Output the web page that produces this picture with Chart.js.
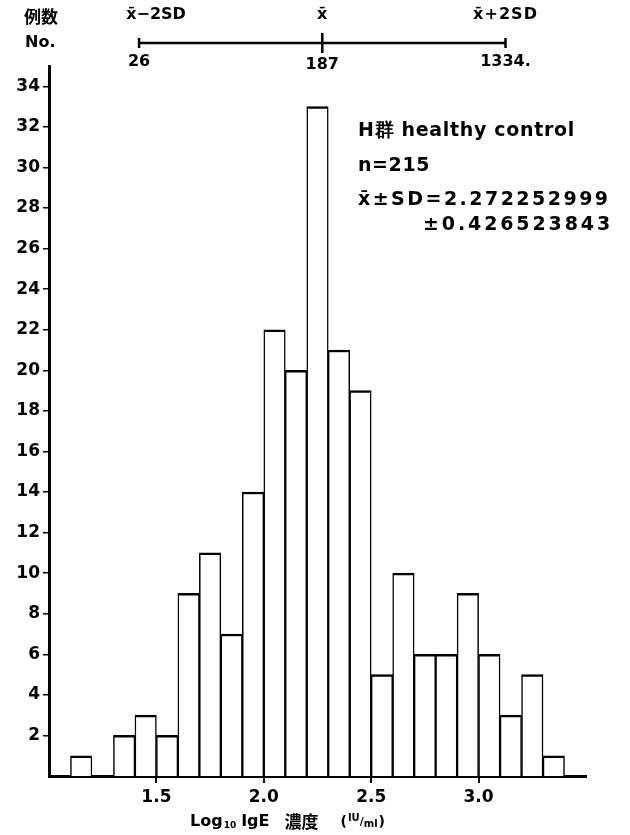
<!DOCTYPE html>
<html>
<head>
<meta charset="utf-8">
<script src="https://cdn.jsdelivr.net/npm/chart.js@4.4.1/dist/chart.umd.min.js"></script>
<style>
  body { margin: 0; background: #fff; }
  #wrap { width: 630px; height: 835px; position: relative; }
</style>
</head>
<body>
<div id="wrap"><canvas id="igeChart"></canvas></div>
<script>
// histogram bins (lower edge of each 0.1 wide bin) and counts
const binStarts = [1.1, 1.2, 1.3, 1.4, 1.5, 1.6, 1.7, 1.8, 1.9, 2.0, 2.1, 2.2,
                   2.3, 2.4, 2.5, 2.6, 2.7, 2.8, 2.9, 3.0, 3.1, 3.2, 3.3];
const counts = [1, 0, 2, 3, 2, 9, 11, 7, 14, 22, 20, 33,
                21, 19, 5, 10, 6, 6, 9, 6, 3, 5, 1];
const binWidth = 0.1;

const xTicks = [1.5, 2.0, 2.5, 3.0];
const yTicks = [2, 4, 6, 8, 10, 12, 14, 16, 18, 20, 22, 24, 26, 28, 30, 32, 34];

const meanLog = 2.272252999;
const sdLog = 0.426523843;
const sdMarks = ['x\u0304\u22122SD', 'x\u0304', 'x\u0304+2SD'];
const sdValues = ['26', '187', '1334.'];
const infoLines = ['H群 healthy control', 'n=215', 'x\u0304±SD=2.272252999', '±0.426523843'];

const FONT = '"DejaVu Sans", sans-serif';
const CJK = '"Noto Sans CJK JP", sans-serif';

// spread text out so it covers a given width (the scan uses a wide typeface)
function fitText(ctx, txt, x, y, w, align) {
  ctx.letterSpacing = '0px';
  const n = [...txt].length;
  const extra = (w - ctx.measureText(txt).width) / n;
  ctx.letterSpacing = Math.max(0, extra) + 'px';
  const real = ctx.measureText(txt).width;
  ctx.textAlign = 'left';
  ctx.fillText(txt, align === 'right' ? x - real : align === 'center' ? x - real / 2 : x, y);
  ctx.letterSpacing = '0px';
}

// draws the mean ± 2SD bar on top and all loose labels
const extraText = {
  id: 'extraText',
  afterDraw(chart) {
    const ctx = chart.ctx;
    const x = chart.scales.x;
    ctx.save();
    ctx.fillStyle = '#000';
    ctx.strokeStyle = '#000';
    ctx.textBaseline = 'middle';

    ctx.font = 'bold 17px ' + CJK;
    ctx.textAlign = 'left';
    ctx.fillText('例数', 24, 17);
    ctx.font = 'bold 16px ' + FONT;
    ctx.fillText('No.', 25, 43);

    // mean ± 2SD range bar
    const pts = [meanLog - 2 * sdLog, meanLog, meanLog + 2 * sdLog].map(v => x.getPixelForValue(v));
    const yb = 43;
    ctx.lineWidth = 2.5;
    ctx.beginPath();
    ctx.moveTo(pts[0], yb); ctx.lineTo(pts[2], yb);
    ctx.moveTo(pts[0], yb - 5); ctx.lineTo(pts[0], yb + 5);
    ctx.moveTo(pts[2], yb - 5); ctx.lineTo(pts[2], yb + 5);
    ctx.moveTo(pts[1], yb - 10); ctx.lineTo(pts[1], yb + 10);
    ctx.stroke();

    ctx.font = 'bold 16px ' + FONT;
    fitText(ctx, sdMarks[0], pts[0] + 17, 15, 58, 'center');
    ctx.textAlign = 'center';
    ctx.fillText(sdMarks[1], pts[1], 15);
    fitText(ctx, sdMarks[2], pts[2], 15, 66, 'center');
    ctx.font = 'bold 16px ' + FONT;
    ctx.textAlign = 'center';
    ctx.fillText(sdValues[0], pts[0], 62);
    ctx.fillText(sdValues[1], pts[1], 65);
    ctx.fillText(sdValues[2], pts[2], 62);

    // info block
    ctx.font = 'bold 19px ' + FONT;
    fitText(ctx, infoLines[0], 358, 131, 217, 'left');
    fitText(ctx, infoLines[1], 358, 166, 72, 'left');
    fitText(ctx, infoLines[2], 358, 200, 255, 'left');
    fitText(ctx, infoLines[3], 613, 225, 190, 'right');

    // x axis title
    ctx.textAlign = 'left';
    let cx = 190;
    const yt = 822;
    ctx.font = 'bold 16px ' + FONT;
    ctx.fillText('Log', cx, yt); cx += ctx.measureText('Log').width + 1;
    ctx.font = 'bold 9px ' + FONT;
    ctx.fillText('10', cx, yt + 4); cx += ctx.measureText('10').width + 5;
    ctx.font = 'bold 16px ' + FONT;
    ctx.fillText('IgE', cx, yt); cx += ctx.measureText('IgE').width + 15;
    ctx.font = 'bold 17px ' + CJK;
    ctx.fillText('濃度', cx, yt); cx += ctx.measureText('濃度').width + 22;
    ctx.font = 'bold 14px ' + FONT;
    ctx.fillText('(', cx, yt); cx += ctx.measureText('(').width + 1;
    ctx.font = 'bold 10px ' + FONT;
    ctx.fillText('IU', cx, yt - 4); cx += ctx.measureText('IU').width;
    ctx.font = 'bold 11px ' + FONT;
    ctx.fillText('/', cx, yt); cx += ctx.measureText('/').width;
    ctx.font = 'bold 10px ' + FONT;
    ctx.fillText('ml', cx, yt + 2); cx += ctx.measureText('ml').width + 1;
    ctx.font = 'bold 14px ' + FONT;
    ctx.fillText(')', cx, yt);
    ctx.restore();
  }
};

new Chart(document.getElementById('igeChart'), {
  type: 'bar',
  data: {
    datasets: [{
      data: binStarts.map((b, i) => ({ x: b + binWidth / 2, y: counts[i] })),
      backgroundColor: '#fff',
      borderColor: '#000',
      borderWidth: { top: 2.5, left: 1.5, right: 1.5, bottom: 0 },
      borderSkipped: 'bottom',
      barPercentage: 1,
      categoryPercentage: 1
    }]
  },
  options: {
    responsive: true,
    maintainAspectRatio: false,
    animation: false,
    layout: { padding: { top: 66, right: 44, left: 0, bottom: 0 } },
    plugins: { legend: { display: false }, tooltip: { enabled: false } },
    scales: {
      x: {
        type: 'linear',
        min: 1.0,
        max: 3.5,
        offset: false,
        afterBuildTicks: s => { s.ticks = xTicks.map(v => ({ value: v })); },
        afterFit: s => { s.height = 59; },
        border: { color: '#000', width: 3 },
        grid: { drawOnChartArea: false, color: '#000', lineWidth: 2, tickLength: 7, offset: false },
        ticks: {
          color: '#000',
          padding: 4,
          maxRotation: 0,
          font: { family: FONT, size: 17, weight: 'bold' },
          callback: v => v.toFixed(1)
        }
      },
      y: {
        min: 0,
        max: 35,
        afterBuildTicks: s => { s.ticks = yTicks.map(v => ({ value: v })); },
        afterFit: s => { s.width = 49; },
        border: { color: '#000', width: 3 },
        grid: { drawOnChartArea: false, color: '#000', lineWidth: 1.5, tickLength: 6 },
        ticks: {
          color: '#000',
          padding: 3,
          font: { family: FONT, size: 17, weight: 'bold' }
        }
      }
    }
  },
  plugins: [extraText]
});
</script>
</body>
</html>
